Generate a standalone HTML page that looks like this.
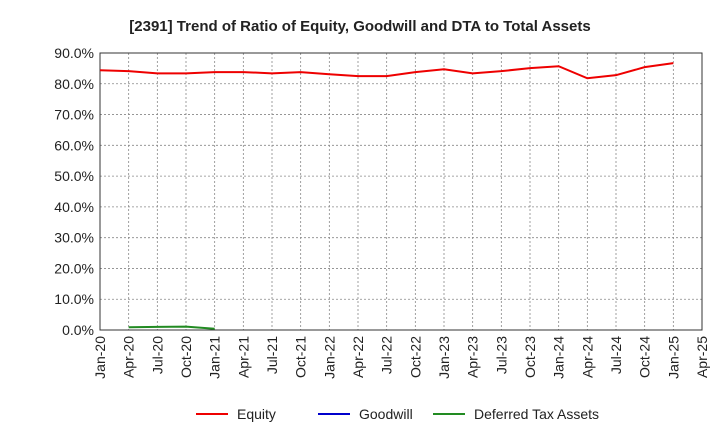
<!DOCTYPE html>
<html><head><meta charset="utf-8"><style>
body{margin:0;background:#fff;font-family:"Liberation Sans",sans-serif;}
</style></head><body>
<svg width="720" height="440" xmlns="http://www.w3.org/2000/svg">
<text x="360" y="31" text-anchor="middle" font-size="15" font-weight="bold" fill="#222">[2391]  Trend of Ratio of Equity, Goodwill and DTA to Total Assets</text>
<g id="grid"></g><g id="axes"></g><g id="series"></g>
<g font-size="14" fill="#222">
<line x1="196" y1="414" x2="228" y2="414" stroke="#e00" stroke-width="2"/><text x="237" y="419">Equity</text>
<line x1="318" y1="414" x2="350" y2="414" stroke="#00c" stroke-width="2"/><text x="359" y="419">Goodwill</text>
<line x1="433" y1="414" x2="465" y2="414" stroke="#228b22" stroke-width="2"/><text x="474" y="419">Deferred Tax Assets</text>
</g>
</svg>
<script>
const xLabels=["Jan-20","Apr-20","Jul-20","Oct-20","Jan-21","Apr-21","Jul-21","Oct-21","Jan-22","Apr-22","Jul-22","Oct-22","Jan-23","Apr-23","Jul-23","Oct-23","Jan-24","Apr-24","Jul-24","Oct-24","Jan-25","Apr-25"];
const yTicks=[0,10,20,30,40,50,60,70,80,90];
const equity=[84.4,84.1,83.4,83.4,83.8,83.8,83.4,83.8,83.1,82.5,82.5,83.8,84.7,83.4,84.1,85.1,85.7,81.8,82.8,85.4,86.7];
const goodwill=[];
const dta=[null,0.9,1.0,1.1,0.4];
const L=100,R=702,T=53,B=330,NS="http://www.w3.org/2000/svg";
const x=i=>L+i*(R-L)/(xLabels.length-1);
const y=v=>B-(v/90)*(B-T);
function mk(t,a,p){const e=document.createElementNS(NS,t);for(const k in a)e.setAttribute(k,a[k]);p.appendChild(e);return e;}
const g=document.getElementById('grid'),ax=document.getElementById('axes'),s=document.getElementById('series');
yTicks.forEach(v=>{const l=mk('line',{x1:L,x2:R,y1:y(v),y2:y(v),stroke:'#888','stroke-dasharray':'2,2','stroke-width':0.8},g);

const t=mk('text',{x:L-6,y:y(v)+5,'text-anchor':'end','font-size':14,fill:'#222'},ax);t.textContent=v.toFixed(1)+'%';
});
xLabels.forEach((lb,i)=>{const l=mk('line',{x1:x(i),x2:x(i),y1:T,y2:B,stroke:'#888','stroke-dasharray':'2,2','stroke-width':0.8},g);

const t=mk('text',{transform:`translate(${x(i)+5},${B+6}) rotate(-90)`,'text-anchor':'end','font-size':14,fill:'#222'},ax);t.textContent=lb;
});
const fr=mk('rect',{x:L,y:T,width:R-L,height:B-T,fill:'none',stroke:'#333','stroke-width':1},ax);

function line(d,c,n){const pts=d.map((v,i)=>v==null?null:x(i)+','+y(v)).filter(p=>p);if(pts.length<2)return;
const p=mk('polyline',{points:pts.join(' '),fill:'none',stroke:c,'stroke-width':2},s);
}
line(equity,'#e00','equity-line');line(goodwill,'#00c','goodwill-line');line(dta,'#228b22','dta-line');
</script>
</body></html>
